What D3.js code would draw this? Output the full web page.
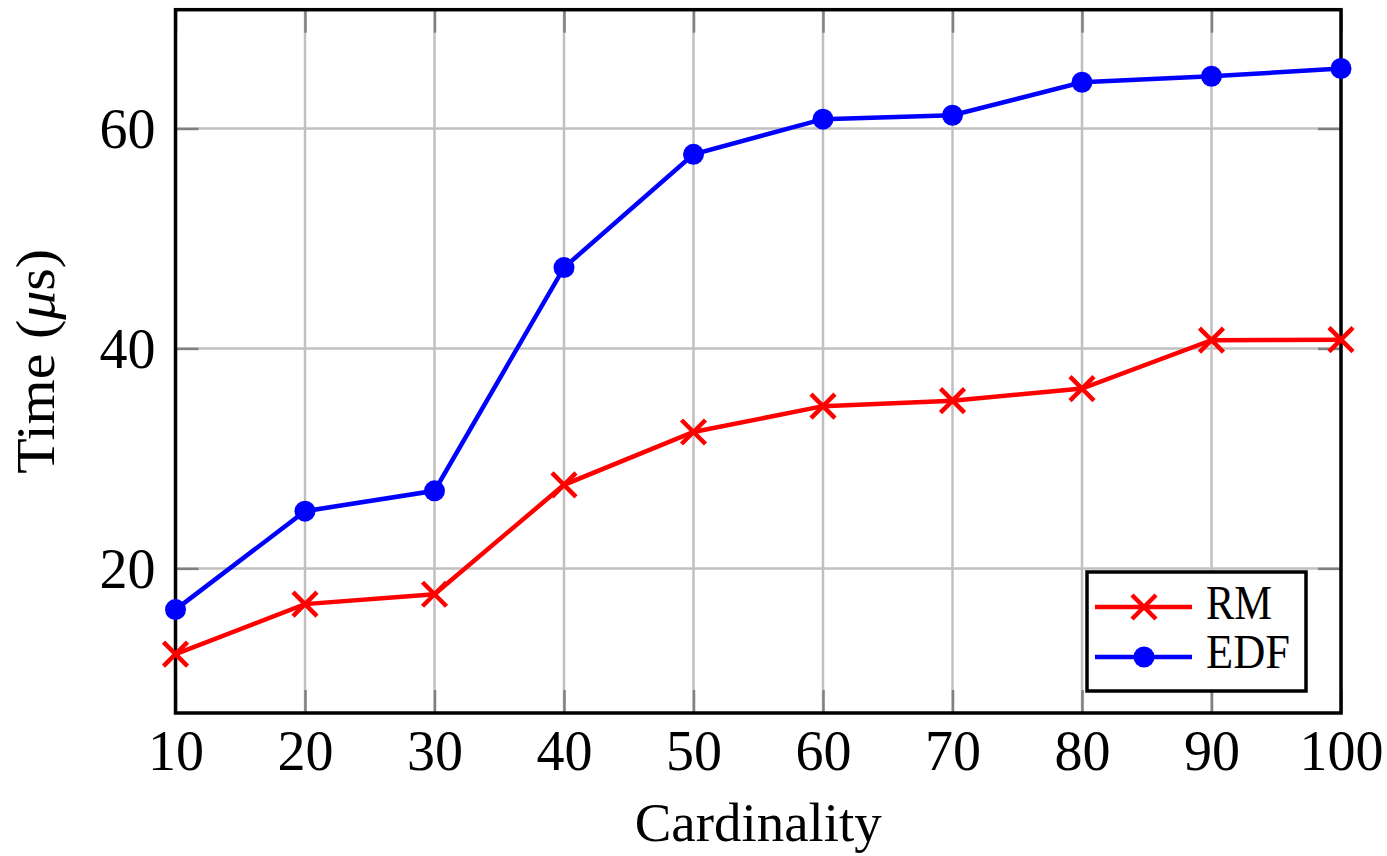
<!DOCTYPE html>
<html>
<head>
<meta charset="utf-8">
<script src="https://cdn.jsdelivr.net/npm/d3@7"></script>
<style>
 body { margin: 0; background: #fff; }
 text { font-family: "Liberation Serif", "DejaVu Serif", serif; fill: #000; }
</style>
</head>
<body>
<script>

// data
var cardinality = [10, 20, 30, 40, 50, 60, 70, 80, 90, 100];
var rmTime  = [12.2, 16.75, 17.65, 27.6, 32.4, 34.75, 35.25, 36.35, 40.75, 40.8];
var edfTime = [16.25, 25.2, 27.05, 47.35, 57.65, 60.85, 61.2, 64.2, 64.75, 65.45];
var xTicks = [10, 20, 30, 40, 50, 60, 70, 80, 90, 100];
var yTicks = [20, 40, 60];

var w = 1387, h = 856;
var pLeft = 175.5, pRight = 1341, pTop = 9.7, pBottom = 713;

var svg = d3.select("body")
	.append("svg")
	.attr("width", w)
	.attr("height", h);

var x = d3.scaleLinear().domain([10, 100]).range([pLeft, pRight]);
var y = d3.scaleLinear().domain([6.85, 70.8]).range([pBottom, pTop]);

// grid
svg.append("g").selectAll("line")
	.data(xTicks.slice(1, -1))
	.enter().append("line")
	.attr("x1", d => x(d)).attr("x2", d => x(d))
	.attr("y1", pTop).attr("y2", pBottom)
	.attr("stroke", "#c0c0c0").attr("stroke-width", 2.5);

svg.append("g").selectAll("line")
	.data(yTicks)
	.enter().append("line")
	.attr("x1", pLeft).attr("x2", pRight)
	.attr("y1", d => y(d)).attr("y2", d => y(d))
	.attr("stroke", "#c0c0c0").attr("stroke-width", 2.5);

// axes: ticks inside, on both sides
var tl = 23;
var xb = svg.append("g").attr("transform", "translate(0," + pBottom + ")")
	.call(d3.axisBottom(x).tickValues(xTicks).tickSizeInner(-tl).tickSizeOuter(0).tickPadding(29));
var xt = svg.append("g").attr("transform", "translate(0," + pTop + ")")
	.call(d3.axisTop(x).tickValues(xTicks).tickSizeInner(-tl).tickSizeOuter(0).tickFormat(""));
var yl = svg.append("g").attr("transform", "translate(" + pLeft + ",0)")
	.call(d3.axisLeft(y).tickValues(yTicks).tickSizeInner(-tl).tickSizeOuter(0).tickPadding(20));
var yr = svg.append("g").attr("transform", "translate(" + pRight + ",0)")
	.call(d3.axisRight(y).tickValues(yTicks).tickSizeInner(-tl).tickSizeOuter(0).tickFormat(""));

[xb, xt, yl, yr].forEach(function(g) {
	g.select(".domain").remove();
	g.selectAll(".tick line").attr("stroke", "#808080").attr("stroke-width", 2.5);
	g.selectAll(".tick text").style("font-size", "56px")
		.style("font-family", "'Liberation Serif', serif").attr("fill", "#000");
});
xb.selectAll(".tick text").attr("dy", "0.5em");
yl.selectAll(".tick text").attr("dy", "0.34em");

// frame
svg.append("rect")
	.attr("x", pLeft).attr("y", pTop)
	.attr("width", pRight - pLeft).attr("height", pBottom - pTop)
	.attr("fill", "none").attr("stroke", "#000").attr("stroke-width", 3.5);

var line = d3.line().x((d, i) => x(cardinality[i])).y(d => y(d));

function crossPath(cx, cy, s) {
	return "M" + (cx - s) + "," + (cy - s) + "L" + (cx + s) + "," + (cy + s) +
		"M" + (cx - s) + "," + (cy + s) + "L" + (cx + s) + "," + (cy - s);
}

// RM
svg.append("path").datum(rmTime)
	.attr("d", line).attr("fill", "none")
	.attr("stroke", "#ff0000").attr("stroke-width", 4.5);
svg.append("g").selectAll("path")
	.data(rmTime).enter().append("path")
	.attr("d", (d, i) => crossPath(x(cardinality[i]), y(d), 12))
	.attr("stroke", "#ff0000").attr("stroke-width", 4.5);

// EDF
svg.append("path").datum(edfTime)
	.attr("d", line).attr("fill", "none")
	.attr("stroke", "#0000ff").attr("stroke-width", 4.5);
svg.append("g").selectAll("circle")
	.data(edfTime).enter().append("circle")
	.attr("cx", (d, i) => x(cardinality[i])).attr("cy", d => y(d))
	.attr("r", 10.5).attr("fill", "#0000ff");

// legend
var lg = svg.append("g");
lg.append("rect").attr("x", 1087).attr("y", 572).attr("width", 219).attr("height", 119)
	.attr("fill", "#fff").attr("stroke", "#000").attr("stroke-width", 3.5);
lg.append("line").attr("x1", 1095).attr("x2", 1192).attr("y1", 607).attr("y2", 607)
	.attr("stroke", "#ff0000").attr("stroke-width", 4.5);
lg.append("path").attr("d", crossPath(1144, 607, 12))
	.attr("stroke", "#ff0000").attr("stroke-width", 4.5);
lg.append("line").attr("x1", 1095).attr("x2", 1192).attr("y1", 657).attr("y2", 657)
	.attr("stroke", "#0000ff").attr("stroke-width", 4.5);
lg.append("circle").attr("cx", 1144).attr("cy", 657).attr("r", 10.5).attr("fill", "#0000ff");
lg.append("text").attr("x", 1206).attr("y", 619).style("font-size", "48px")
	.attr("textLength", 66).attr("lengthAdjust", "spacingAndGlyphs").text("RM");
lg.append("text").attr("x", 1206).attr("y", 668).style("font-size", "48px")
	.attr("textLength", 84).attr("lengthAdjust", "spacingAndGlyphs").text("EDF");

// axis labels
svg.append("text")
	.attr("x", (pLeft + pRight) / 2).attr("y", 841)
	.attr("text-anchor", "middle").style("font-size", "54px")
	.attr("textLength", 247).attr("lengthAdjust", "spacingAndGlyphs")
	.text("Cardinality");

svg.append("text")
	.attr("transform", "translate(54," + ((pTop + pBottom) / 2) + ") rotate(-90)")
	.attr("text-anchor", "middle").style("font-size", "54px")
	.attr("textLength", 225).attr("lengthAdjust", "spacingAndGlyphs")
	.html("Time (<tspan font-style='italic'>μ</tspan>s)");

</script>
</body>
</html>
